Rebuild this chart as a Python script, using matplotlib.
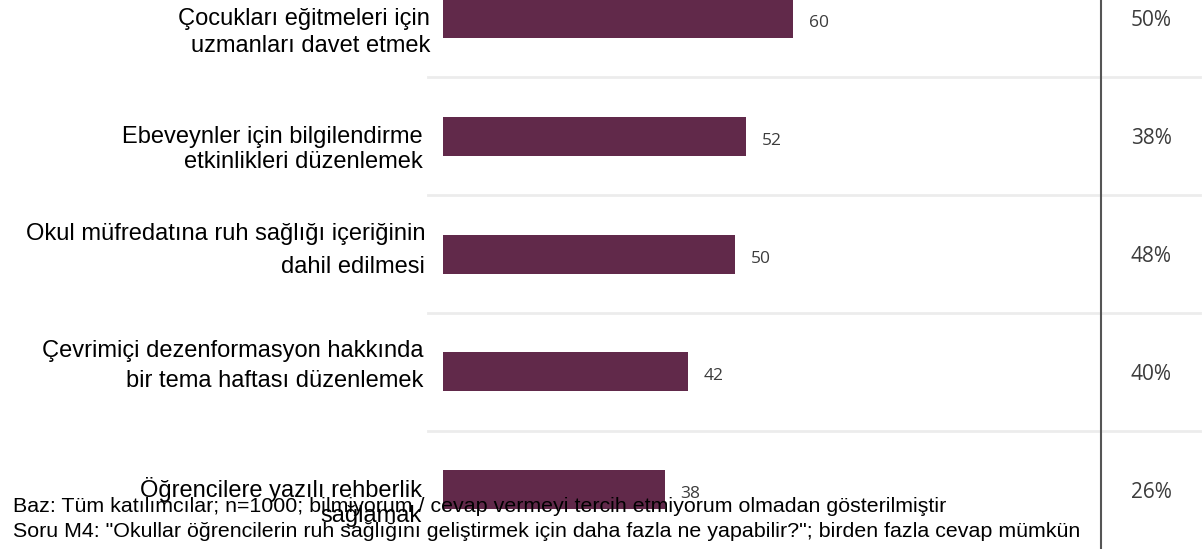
import matplotlib
matplotlib.use("Agg")
import matplotlib.pyplot as plt
from matplotlib.transforms import blended_transform_factory

# ---- data ----
categories = [
    "Çocukları eğitmeleri için\nuzmanları davet etmek",
    "Ebeveynler için bilgilendirme\netkinlikleri düzenlemek",
    "Okul müfredatına ruh sağlığı içeriğinin\ndahil edilmesi",
    "Çevrimiçi dezenformasyon hakkında\nbir tema haftası düzenlemek",
    "Öğrencilere yazılı rehberlik\nsağlamak",
]
values = [60, 52, 50, 42, 38]
percent_labels = ["50%", "38%", "48%", "40%", "26%"]
footer_lines = [
    "Baz: Tüm katılımcılar; n=1000; bilmiyorum / cevap vermeyi tercih etmiyorum olmadan gösterilmiştir",
    'Soru M4: "Okullar öğrencilerin ruh sağlığını geliştirmek için daha fazla ne yapabilir?"; birden fazla cevap mümkün',
]

# ---- layout (pixels) ----
W, H = 1204, 549
BAR_COLOR = "#61294a"
ax_left_px, ax_right_px = 443, 1101
row_top_px, row_bottom_px = -40.4, 548.6
units_per_px = 60 / 350.0
# per-row label layout: right edge (px) and baseline offsets (px, below row centre)
label_right = [430, 423, 425, 423, 422]
label_dy = [(6.5, 33.5), (6.7, 31.7), (-14.0, 19.0), (-14.8, 15.2), (7.4, 32.4)]

fig = plt.figure(figsize=(W / 100, H / 100), dpi=100)
ax = fig.add_axes([ax_left_px / W, (H - row_bottom_px) / H,
                   (ax_right_px - ax_left_px) / W, (row_bottom_px - row_top_px) / H])
n = len(values)
ax.set_ylim(n - 0.5, -0.5)
ax.set_xlim(0, (ax_right_px - ax_left_px) * units_per_px)

ypos = list(range(n))
ax.barh(ypos, values, height=0.33, color=BAR_COLOR, zorder=2)

for s in ["top", "left", "bottom"]:
    ax.spines[s].set_visible(False)
ax.spines["right"].set_color("#555555")
ax.spines["right"].set_linewidth(1.5)
ax.set_xticks([])
ax.set_yticks([])

trans = blended_transform_factory(ax.transAxes, ax.transData)
sep_x0 = (428 - ax_left_px) / (ax_right_px - ax_left_px)
sep_x1 = (1200 - ax_left_px) / (ax_right_px - ax_left_px)
for i in range(n - 1):
    ax.plot([sep_x0, sep_x1], [i + 0.5, i + 0.5], transform=trans,
            color="#ececec", lw=2, clip_on=False, zorder=0)

pct_x = (1151 - ax_left_px) / (ax_right_px - ax_left_px)
for i, (v, p) in enumerate(zip(values, percent_labels)):
    ax.annotate(str(v), xy=(v, i), xytext=(16, -8.5), textcoords="offset pixels",
                ha="left", va="baseline", fontsize=12.5, family="Open Sans",
                color="#3c3c3c")
    ax.annotate(p, xy=(pct_x, i), xycoords=trans, xytext=(0, -8), textcoords="offset pixels",
                ha="center", va="baseline", fontsize=15, family="Open Sans",
                color="#3c3c3c", annotation_clip=False)

for i, lab in enumerate(categories):
    lines = lab.split("\n")
    for line, dy in zip(lines, label_dy[i]):
        ax.annotate(line, xy=(0, i), xytext=(label_right[i] - ax_left_px, -dy),
                    textcoords="offset pixels",
                    ha="right", va="baseline", fontsize=17, family="Liberation Sans",
                    color="black", annotation_clip=False)

footer_baselines = [512, 537]
for txt, yb in zip(footer_lines, footer_baselines):
    fig.text(13 / W, 1 - yb / H, txt, ha="left", va="baseline", fontsize=15.4,
             family="Liberation Sans", color="black", zorder=5)

fig.savefig("out.png", dpi=100)
